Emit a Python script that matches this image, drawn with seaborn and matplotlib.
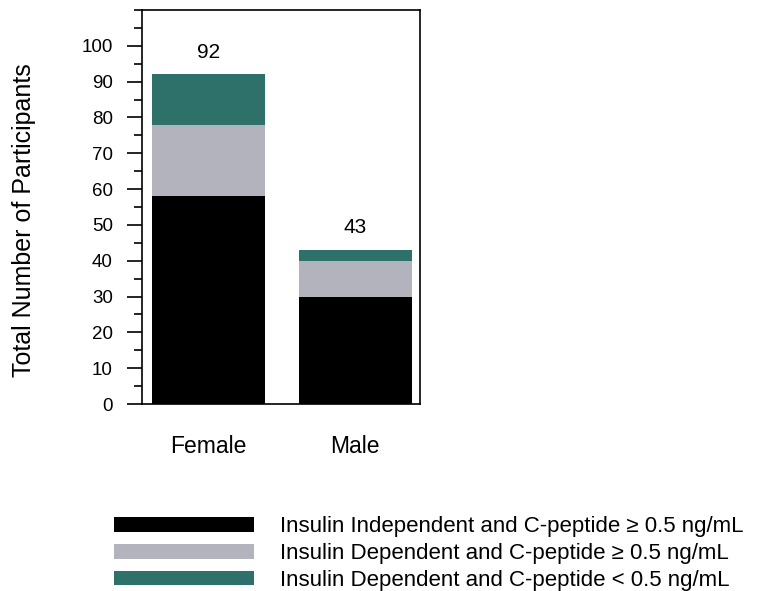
import pandas as pd
import matplotlib.pyplot as plt
import seaborn as sns
from matplotlib.patches import Patch
from matplotlib.ticker import MultipleLocator

# values
sexes = ['Female', 'Male']
indep_high = [58, 30]   # Insulin independent, C-peptide >= 0.5
dep_high = [20, 10]     # Insulin dependent, C-peptide >= 0.5
dep_low = [14, 3]       # Insulin dependent, C-peptide < 0.5
legend_labels = ['Insulin Independent and C-peptide \u2265 0.5 ng/mL',
                 'Insulin Dependent and C-peptide \u2265 0.5 ng/mL',
                 'Insulin Dependent and C-peptide < 0.5 ng/mL']
colors = ['#000000', '#b3b3bd', '#2e716b']

df = pd.DataFrame({'sex': sexes, 'a': indep_high, 'b': dep_high, 'c': dep_low})
df['ab'] = df['a'] + df['b']
df['total'] = df['ab'] + df['c']

sns.set_style('ticks')
plt.rcParams['font.family'] = ['Liberation Sans', 'DejaVu Sans']
plt.rcParams['text.color'] = 'black'
plt.rcParams['axes.labelcolor'] = 'black'
plt.rcParams['xtick.color'] = 'black'
plt.rcParams['ytick.color'] = 'black'

fig = plt.figure(figsize=(7.57, 5.91), dpi=100)
ax = fig.add_axes([0.1876, 0.3164, 0.3672, 0.6667])

# stacked bars drawn as overlapping cumulative totals
sns.barplot(data=df, x='sex', y='total', color=colors[2], width=0.77, saturation=1, ax=ax)
sns.barplot(data=df, x='sex', y='ab', color=colors[1], width=0.77, saturation=1, ax=ax)
sns.barplot(data=df, x='sex', y='a', color=colors[0], width=0.77, saturation=1, ax=ax)
for p in ax.patches:
    p.set_edgecolor('none')

ax.bar_label(ax.containers[0], labels=[str(v) for v in df['total']], padding=9, fontsize=15)

ax.set_ylim(0, 110)
ax.set_xlim(-0.452, 1.44)
ax.set_yticks(range(0, 101, 10))
ax.yaxis.set_minor_locator(MultipleLocator(5))
ax.tick_params(axis='y', which='major', length=11, width=1.2, labelsize=13.5, pad=10)
ax.tick_params(axis='y', which='minor', length=6, width=1.2)
ax.tick_params(axis='x', length=0, labelsize=16.5, pad=22)
ax.set_xlabel('')
ax.set_ylabel('Total Number of Participants', fontsize=18)
ax.yaxis.set_label_coords(-0.38, 0.467)
for s in ax.spines.values():
    s.set_visible(True)
    s.set_color('black')
    s.set_linewidth(1.2)

handles = [Patch(facecolor=c, edgecolor='none') for c in colors]
fig.legend(handles, legend_labels, loc='upper left', bbox_to_anchor=(0.151, 0.1265),
           frameon=False, fontsize=16, handlelength=6.3, handleheight=0.65,
           labelspacing=0.26, handletextpad=1.15, borderaxespad=0, borderpad=0)

plt.savefig('out.png', dpi=100)
